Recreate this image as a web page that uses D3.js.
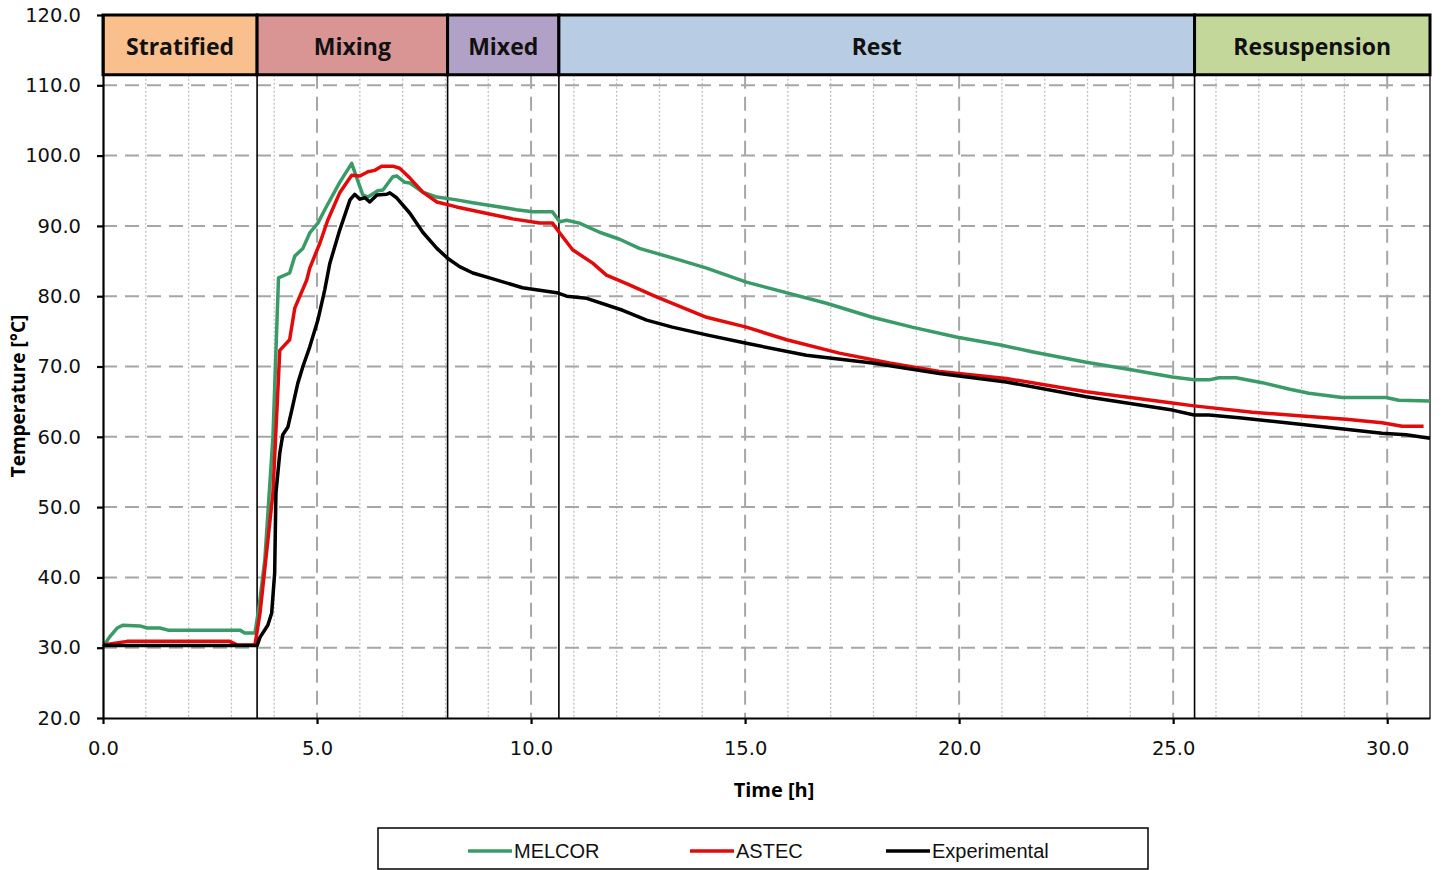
<!DOCTYPE html>
<html>
<head>
<meta charset="utf-8">
<script src="https://cdn.jsdelivr.net/npm/d3@7"></script>
<style>
  html, body { margin: 0; padding: 0; background: #fff; }
  svg { display: block; }
</style>
</head>
<body>
<svg id="chart" width="1442" height="870"></svg>
<script>
// ---------------- DATA ----------------
const phaseNames  = ["Stratified", "Mixing", "Mixed", "Rest", "Resuspension"];
const phaseStart  = [0, 3.6, 8.05, 10.65, 25.5];
const phaseEnd    = [3.6, 8.05, 10.65, 25.5, 31];
const phaseColors = ["#F9C08E", "#D99594", "#B2A1C7", "#B8CCE4", "#C4D79B"];

const seriesNames  = ["MELCOR", "ASTEC", "Experimental"];
const seriesColors = ["#3A9B68", "#E20A0A", "#000000"];

const melcorT = [0, 0.15, 0.33, 0.47, 0.86, 1.03, 1.33, 1.52, 3.2, 3.31, 3.55, 3.65, 3.78, 3.97, 4.1, 4.36, 4.48, 4.67, 4.83, 5.02, 5.18, 5.53, 5.81, 5.93, 6.07, 6.19, 6.42, 6.54, 6.77, 6.86, 7.05, 7.17, 7.47, 7.8, 8.26, 8.64, 9.27, 9.66, 10.04, 10.5, 10.67, 10.83, 11.13, 11.6, 12.07, 12.53, 13.5, 14.1, 15.03, 16.9, 17.97, 18.9, 19.93, 20.94, 21.7, 22.97, 24.05, 24.98, 25.49, 25.84, 26.07, 26.47, 27.08, 27.7, 28.17, 28.95, 29.97, 30.27, 31];
const melcorV = [30.1, 31.5, 32.8, 33.2, 33.1, 32.8, 32.8, 32.5, 32.5, 32.1, 32.1, 36.0, 42.5, 60.0, 82.6, 83.3, 85.7, 86.8, 89.0, 90.4, 92.3, 96.2, 98.9, 96.8, 94.4, 94.1, 95.0, 95.1, 97.0, 97.1, 96.2, 96.1, 94.8, 94.1, 93.7, 93.3, 92.7, 92.3, 92.0, 92.0, 90.6, 90.8, 90.4, 89.1, 88.1, 86.8, 85.1, 84.0, 82.0, 79.0, 77.0, 75.6, 74.2, 73.1, 72.1, 70.6, 69.5, 68.5, 68.1, 68.1, 68.4, 68.4, 67.7, 66.8, 66.2, 65.6, 65.6, 65.2, 65.1];

const astecT = [0, 0.56, 2.96, 3.13, 3.55, 3.67, 3.97, 4.13, 4.36, 4.48, 4.76, 4.83, 5.07, 5.25, 5.53, 5.81, 6.0, 6.19, 6.35, 6.51, 6.77, 6.93, 7.17, 7.47, 7.8, 8.26, 9.03, 9.57, 10.2, 10.5, 10.67, 10.97, 11.44, 11.76, 12.23, 12.93, 14.1, 15.03, 15.97, 17.2, 18.37, 19.54, 21.1, 22.97, 24.98, 25.49, 26.85, 27.94, 29.04, 29.88, 30.35, 30.85];
const astecV = [30.4, 30.9, 30.9, 30.4, 30.4, 35.0, 52.0, 72.3, 73.8, 78.3, 82.3, 84.0, 87.6, 90.8, 94.7, 97.2, 97.1, 97.7, 97.9, 98.5, 98.5, 98.2, 96.8, 94.8, 93.4, 92.7, 91.7, 91.0, 90.4, 90.4, 89.0, 86.6, 84.7, 83.0, 81.8, 79.9, 77.0, 75.6, 73.8, 71.9, 70.5, 69.3, 68.3, 66.4, 64.8, 64.4, 63.5, 63.0, 62.5, 62.0, 61.5, 61.5];

const expT = [0, 3.6, 3.67, 3.85, 3.94, 4.01, 4.04, 4.13, 4.2, 4.32, 4.41, 4.55, 4.67, 4.83, 5.02, 5.18, 5.3, 5.53, 5.77, 5.88, 6.0, 6.12, 6.23, 6.4, 6.63, 6.7, 6.86, 7.17, 7.47, 7.8, 8.05, 8.33, 8.64, 9.03, 9.8, 10.6, 10.83, 11.3, 12.14, 12.7, 13.3, 14.1, 15.03, 16.43, 17.97, 19.54, 21.1, 22.97, 24.98, 25.49, 25.84, 26.54, 27.64, 28.71, 29.88, 30.44, 31];
const expV = [30.3, 30.3, 31.5, 33.2, 34.9, 40.6, 52.0, 57.7, 60.3, 61.4, 63.8, 67.6, 70.0, 72.8, 76.6, 80.9, 84.7, 89.4, 93.7, 94.5, 93.8, 94.0, 93.4, 94.4, 94.5, 94.7, 94.0, 91.8, 89.1, 86.8, 85.4, 84.2, 83.3, 82.6, 81.2, 80.5, 80.0, 79.7, 78.0, 76.6, 75.6, 74.5, 73.3, 71.6, 70.5, 69.0, 67.8, 65.7, 63.8, 63.1, 63.1, 62.7, 62.0, 61.3, 60.5, 60.3, 59.8];

const xTicks = [0, 5, 10, 15, 20, 25, 30];
const yTicks = [20, 30, 40, 50, 60, 70, 80, 90, 100, 110, 120];
const xTitle = "Time [h]";
const yTitle = "Temperature [°C]";

// ---------------- CHART ----------------
const svg = d3.select("#chart");
const x = d3.scaleLinear().domain([0, 31]).range([103, 1430]);
const y = d3.scaleLinear().domain([20, 120]).range([718, 15]);
const bandBottom = 111.5;
const fmt = d3.format(".1f");

const grid = svg.append("g");
// minor vertical dotted
const minorX = d3.range(1, 31).filter(v => v % 5 !== 0);
grid.selectAll("line.minx").data(minorX).join("line")
  .attr("x1", d => x(d)).attr("x2", d => x(d))
  .attr("y1", y(bandBottom)).attr("y2", y(20))
  .attr("stroke", "#BFBFBF").attr("stroke-width", 1.3).attr("stroke-dasharray", "2,2");
// major vertical dashed
grid.selectAll("line.majx").data(xTicks.filter(v => v > 0)).join("line")
  .attr("x1", d => x(d)).attr("x2", d => x(d))
  .attr("y1", y(bandBottom)).attr("y2", y(20))
  .attr("stroke", "#A6A6A6").attr("stroke-width", 2).attr("stroke-dasharray", "14,8");
// major horizontal dashed
grid.selectAll("line.majy").data(yTicks.filter(v => v > 20 && v < bandBottom)).join("line")
  .attr("x1", x(0)).attr("x2", x(31))
  .attr("y1", d => y(d)).attr("y2", d => y(d))
  .attr("stroke", "#A6A6A6").attr("stroke-width", 2).attr("stroke-dasharray", "14,8");

// right border
svg.append("line").attr("x1", x(31)).attr("x2", x(31))
  .attr("y1", y(bandBottom)).attr("y2", y(20))
  .attr("stroke", "#333").attr("stroke-width", 1.5);

// phase separators
svg.append("g").selectAll("line").data(phaseStart.slice(1)).join("line")
  .attr("x1", d => x(d)).attr("x2", d => x(d))
  .attr("y1", y(bandBottom)).attr("y2", y(20))
  .attr("stroke", "#000").attr("stroke-width", 1.6);

// series
const seriesData = [
  melcorT.map((t, i) => [t, melcorV[i]]),
  astecT.map((t, i) => [t, astecV[i]]),
  expT.map((t, i) => [t, expV[i]])
];
const line = d3.line().x(d => x(d[0])).y(d => y(d[1]));
svg.append("g").selectAll("path").data(seriesData).join("path")
  .attr("d", line).attr("fill", "none")
  .attr("stroke", (d, i) => seriesColors[i]).attr("stroke-width", 3.5)
  .attr("stroke-linejoin", "round");

// phase bands
const bands = svg.append("g");
bands.selectAll("rect").data(phaseNames).join("rect")
  .attr("x", (d, i) => x(phaseStart[i])).attr("y", y(120))
  .attr("width", (d, i) => x(phaseEnd[i]) - x(phaseStart[i]))
  .attr("height", y(bandBottom) - y(120))
  .attr("fill", (d, i) => phaseColors[i])
  .attr("stroke", "#000").attr("stroke-width", 3);
bands.selectAll("text").data(phaseNames).join("text")
  .attr("x", (d, i) => (x(phaseStart[i]) + x(phaseEnd[i])) / 2)
  .attr("y", (y(120) + y(bandBottom)) / 2 + 2)
  .attr("dy", "0.36em")
  .attr("text-anchor", "middle")
  .attr("font-family", "'Open Sans', sans-serif").attr("font-weight", "bold")
  .attr("font-size", 23).attr("fill", "#111")
  .text(d => d);

// axes
const tickFont = "'DejaVu Sans', sans-serif";
const yAxis = svg.append("g").attr("transform", `translate(${x(0)},0)`)
  .call(d3.axisLeft(y).tickValues(yTicks).tickFormat(fmt).tickSize(6).tickPadding(16).tickSizeOuter(0));
const xAxis = svg.append("g").attr("transform", `translate(0,${y(20)})`)
  .call(d3.axisBottom(x).tickValues(xTicks).tickFormat(fmt).tickSize(6).tickPadding(17).tickSizeOuter(0));
[xAxis, yAxis].forEach(a => {
  a.select(".domain").attr("stroke", "#000").attr("stroke-width", 2.2);
  a.selectAll(".tick line").attr("stroke", "#000").attr("stroke-width", 2.2);
  a.selectAll(".tick text").attr("font-family", tickFont).attr("font-size", 19.5).attr("fill", "#111");
});

// axis titles
svg.append("text").attr("x", 774).attr("y", 790).attr("dy", "0.36em")
  .attr("text-anchor", "middle")
  .attr("font-family", "'Open Sans', sans-serif").attr("font-weight", "bold").attr("font-size", 20)
  .text(xTitle);
svg.append("text").attr("transform", "translate(18,396) rotate(-90)").attr("dy", "0.36em")
  .attr("text-anchor", "middle")
  .attr("font-family", "'Open Sans', sans-serif").attr("font-weight", "bold").attr("font-size", 19)
  .text(yTitle);

// legend
const legend = svg.append("g");
legend.append("rect").attr("x", 378).attr("y", 828).attr("width", 770).attr("height", 41)
  .attr("fill", "#fff").attr("stroke", "#000").attr("stroke-width", 1.5);
const legX = [468, 690, 886];
const items = legend.selectAll("g.item").data(seriesNames).join("g")
  .attr("transform", (d, i) => `translate(${legX[i]},851)`);
items.append("line").attr("x1", 0).attr("x2", 44).attr("y1", 0).attr("y2", 0)
  .attr("stroke", (d, i) => seriesColors[i]).attr("stroke-width", 3.5);
items.append("text").attr("x", 46).attr("dy", "0.36em")
  .attr("font-family", "'Liberation Sans Narrow', 'Liberation Sans', sans-serif").attr("font-size", 20)
  .attr("fill", "#111")
  .text(d => d);
</script>
</body>
</html>
